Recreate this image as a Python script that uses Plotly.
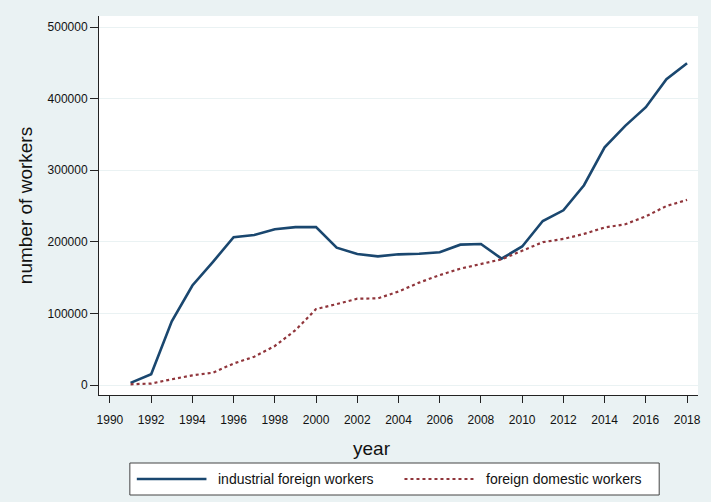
import plotly.graph_objects as go

years = list(range(1991, 2019))
industrial = [3000, 15000, 89000, 139000, 172000, 206500, 209500, 217500, 220500, 220500,
              191800, 183000, 179700, 182500, 183400, 185500, 196000, 197000, 176500, 193500,
              229000, 244000, 279000, 332000, 362000, 388000, 427000, 449500]
domestic = [1000, 2000, 8000, 13500, 17200, 30000, 39500, 54500, 76500, 106000,
            113000, 120500, 121000, 130500, 143000, 153500, 162500, 168500, 175500, 187500,
            199500, 204000, 211000, 220000, 224500, 235500, 250000, 258500]
series_names = ["industrial foreign workers", "foreign domestic workers"]
x_ticks = list(range(1990, 2019, 2))
y_ticks = [0, 100000, 200000, 300000, 400000, 500000]

BG = "#EAF2F3"
NAVY = "#1A476F"
MAROON = "#90353B"
FONT = "Liberation Sans, Arial, sans-serif"

styles = [dict(color=NAVY, width=2.6), dict(color=MAROON, width=2.2, dash="dot")]

fig = go.Figure()
for name, vals, st in zip(series_names, [industrial, domestic], styles):
    fig.add_trace(go.Scatter(x=years, y=vals, mode="lines", name=name, line=st,
                             showlegend=False))

W, H = 711, 502
L, R, T, B = 99, 10, 16, 107
pw, ph = W - L - R, H - T - B


def px(xp):
    return (xp - L) / pw


def py(yp):
    return (H - B - yp) / ph


# custom legend (Stata-style long keys)
box_x0, box_x1, box_y0, box_y1 = 130, 662, 463, 495
key_starts = [137, 406]
key_len, text_gap = 70, 10
legend_mid = (box_y0 + box_y1) / 2
shapes = [dict(type="rect", xref="paper", yref="paper", x0=px(box_x0), x1=px(box_x1),
               y0=py(box_y1), y1=py(box_y0), line=dict(color="#444", width=1),
               fillcolor="white", layer="below")]
annotations = []
for name, st, ks in zip(series_names, styles, key_starts):
    shapes.append(dict(type="line", xref="paper", yref="paper", x0=px(ks), x1=px(ks + key_len),
                       y0=py(legend_mid), y1=py(legend_mid), line=st))
    annotations.append(dict(text=name, xref="paper", yref="paper", x=px(ks + key_len + text_gap),
                            y=py(legend_mid), xanchor="left", yanchor="middle", showarrow=False,
                            font=dict(size=14, color="#111", family=FONT)))
annotations.append(dict(text="year", xref="paper", yref="paper", x=px(373), y=py(448),
                        xanchor="center", yanchor="middle", showarrow=False,
                        font=dict(size=19, color="#111", family=FONT)))

fig.update_layout(
    width=W, height=H,
    margin=dict(l=L, r=R, t=T, b=B),
    paper_bgcolor=BG, plot_bgcolor="white",
    font=dict(family=FONT, color="#111"),
    showlegend=False,
    shapes=shapes,
    annotations=annotations,
)
fig.update_xaxes(
    range=[1989.469, 2018.531], tickvals=x_ticks, ticktext=[str(v) for v in x_ticks],
    showgrid=False, zeroline=False, showline=True, linecolor="#222", linewidth=1,
    ticks="outside", ticklen=7, tickcolor="#222", tickfont=dict(size=12),
    ticklabelstandoff=7,
)
fig.update_yaxes(
    range=[-13966, 515363], tickvals=y_ticks, ticktext=[str(v) for v in y_ticks],
    showgrid=True, gridcolor=BG, gridwidth=1.2, zeroline=False,
    showline=True, linecolor="#222", linewidth=1,
    ticks="outside", ticklen=8, tickcolor="#222", tickfont=dict(size=12),
    title=dict(text="number of workers", font=dict(size=19), standoff=9),
)

fig.write_html("out.html")
